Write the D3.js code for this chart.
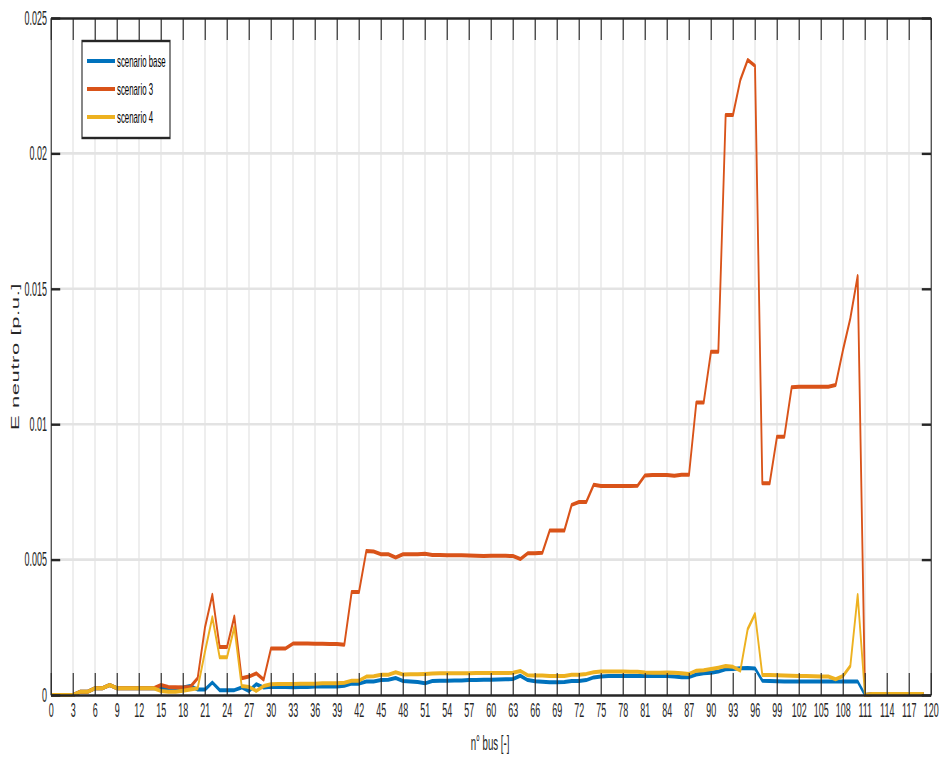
<!DOCTYPE html>
<html>
<head>
<meta charset="utf-8">
<script src="https://cdn.jsdelivr.net/npm/d3@7"></script>
<style>
  body { margin: 0; background: #fff; }
  text { font-family: "Liberation Sans", Arial, Helvetica, sans-serif; }
</style>
</head>
<body>
<svg id="chart"></svg>
<script>
// Bus index 0..119
const buses = [
  0,1,2,3,4,5,6,7,8,9,10,11,12,13,14,15,16,17,18,19,
  20,21,22,23,24,25,26,27,28,29,30,31,32,33,34,35,36,37,38,39,
  40,41,42,43,44,45,46,47,48,49,50,51,52,53,54,55,56,57,58,59,
  60,61,62,63,64,65,66,67,68,69,70,71,72,73,74,75,76,77,78,79,
  80,81,82,83,84,85,86,87,88,89,90,91,92,93,94,95,96,97,98,99,
  100,101,102,103,104,105,106,107,108,109,110,111,112,113,114,115,116,117,118,119
];

const scenarioBase = [
  0,0,0,0,0.00012,0.00012,0.00025,0.00025,0.00037,0.00025,
  0.00025,0.00025,0.00025,0.00025,0.00025,0.00022,0.00022,0.00025,0.00028,0.00033,
  0.0002,0.0002,0.00046,0.00018,0.00018,0.00018,0.00028,0.00015,0.0004,0.00028,
  0.0003,0.0003,0.0003,0.00029,0.0003,0.0003,0.00031,0.00031,0.00031,0.00031,
  0.00034,0.00042,0.00042,0.0005,0.0005,0.00055,0.00056,0.00063,0.00052,0.0005,
  0.00048,0.00043,0.00052,0.00053,0.00053,0.00054,0.00054,0.00055,0.00055,0.00056,
  0.00056,0.00057,0.00058,0.00059,0.00071,0.00055,0.00051,0.00049,0.00047,0.00047,
  0.00048,0.00052,0.00052,0.00055,0.00065,0.00068,0.0007,0.0007,0.0007,0.0007,
  0.0007,0.0007,0.0007,0.0007,0.0007,0.00068,0.00066,0.00066,0.00076,0.0008,
  0.00082,0.00087,0.00095,0.00096,0.00099,0.001,0.00098,0.00053,0.00052,0.00051,
  0.0005,0.0005,0.0005,0.0005,0.0005,0.0005,0.0005,0.0005,0.0005,0.0005,
  0.0005,0,0.00003,0.00003,0.00003,0.00003,0.00003,0.00003,0.00003,0.00003
];

const scenario3 = [
  0,0,0,0,0.00012,0.00012,0.00025,0.00025,0.00037,0.00025,
  0.00025,0.00025,0.00025,0.00025,0.00025,0.00037,0.0003,0.00029,0.00028,0.0003,
  0.00062,0.0025,0.0037,0.00177,0.00177,0.0029,0.00062,0.00068,0.0008,0.00057,
  0.00172,0.00172,0.00172,0.0019,0.0019,0.0019,0.00189,0.00189,0.00188,0.00188,
  0.00186,0.0038,0.0038,0.00532,0.0053,0.0052,0.0052,0.00508,0.0052,0.0052,
  0.0052,0.00522,0.00517,0.00517,0.00516,0.00516,0.00516,0.00515,0.00514,0.00513,
  0.00514,0.00514,0.00514,0.00513,0.00502,0.00523,0.00523,0.00525,0.00607,0.00607,
  0.00607,0.00702,0.00713,0.00713,0.00776,0.00772,0.00772,0.00772,0.00772,0.00772,
  0.00773,0.00811,0.00812,0.00812,0.00812,0.0081,0.00813,0.00813,0.0108,0.0108,
  0.01268,0.01268,0.02142,0.02142,0.02271,0.02345,0.02323,0.00782,0.00782,0.00954,
  0.00954,0.01136,0.01138,0.01138,0.01138,0.01138,0.01138,0.01145,0.01274,0.01391,
  0.01547,0,0.00003,0.00003,0.00003,0.00003,0.00003,0.00003,0.00003,0.00003
];

const scenario4 = [
  0,0,0,0,0.00012,0.00012,0.00025,0.00025,0.00037,0.00025,
  0.00025,0.00025,0.00025,0.00025,0.00025,0.00015,0.00012,0.00012,0.00016,0.0002,
  0.00025,0.0016,0.00287,0.00139,0.00139,0.0025,0.00033,0.0003,0.00015,0.00033,
  0.0004,0.00041,0.00041,0.00041,0.00042,0.00042,0.00042,0.00043,0.00043,0.00043,
  0.00045,0.00053,0.00053,0.00068,0.00069,0.00075,0.00075,0.00084,0.00076,0.00077,
  0.00077,0.00078,0.00079,0.0008,0.0008,0.0008,0.0008,0.0008,0.00081,0.00081,
  0.00081,0.00081,0.00081,0.00082,0.00089,0.00073,0.00072,0.00072,0.0007,0.0007,
  0.0007,0.00075,0.00075,0.00078,0.00084,0.00087,0.00087,0.00087,0.00087,0.00086,
  0.00086,0.00083,0.00082,0.00082,0.00083,0.00082,0.0008,0.00078,0.0009,0.00091,
  0.00096,0.00101,0.00107,0.00104,0.0009,0.00243,0.00299,0.00074,0.00074,0.00073,
  0.00072,0.00071,0.0007,0.0007,0.00069,0.00068,0.00068,0.00058,0.0007,0.00107,
  0.00369,0,0.00004,0.00004,0.00004,0.00004,0.00004,0.00004,0.00004,0.00004
];

const xTickValues = [0,3,6,9,12,15,18,21,24,27,30,33,36,39,42,45,48,51,54,57,60,
  63,66,69,72,75,78,81,84,87,90,93,96,99,102,105,108,111,114,117,120];
const yTickValues = [0,0.005,0.01,0.015,0.02,0.025];
const yTickLabels = ["0","0.005","0.01","0.015","0.02","0.025"];
const seriesNames = ["scenario base", "scenario 3", "scenario 4"];
const seriesColors = ["#0072BD", "#D95319", "#EDB120"];
const xLabel = "n° bus [-]";
const yLabel = "E neutro [p.u.]";

// The figure is laid out in a wide coordinate space and squeezed horizontally.
const W = 939, H = 758, SX = 0.46;
const IW = W / SX;
const ink = "#262626";

const svg = d3.select("#chart")
  .attr("width", W).attr("height", H)
  .attr("viewBox", `0 0 ${IW} ${H}`)
  .attr("preserveAspectRatio", "none");

const plotLeft = 51 / SX, plotRight = 931 / SX, plotTop = 18, plotBottom = 695;
const x = d3.scaleLinear().domain([0, 120]).range([plotLeft, plotRight]);
const y = d3.scaleLinear().domain([0, 0.025]).range([plotBottom, plotTop]);

// grid
const grid = svg.append("g").attr("stroke", "#e3e3e3").attr("stroke-width", 2.6);
grid.selectAll("line.vx").data(xTickValues.filter(d => d > 0 && d < 120)).join("line")
  .attr("x1", d => x(d)).attr("x2", d => x(d)).attr("y1", plotTop).attr("y2", plotBottom);
grid.selectAll("line.hy").data(yTickValues.filter(d => d > 0 && d < 0.025)).join("line")
  .attr("x1", plotLeft).attr("x2", plotRight).attr("y1", d => y(d)).attr("y2", d => y(d));

// series
const line = d3.line().x((d, i) => x(buses[i])).y(d => y(d));
const seriesData = [scenarioBase, scenario3, scenario4];
svg.append("g").selectAll("path").data(seriesData).join("path")
  .attr("d", d => line(d))
  .attr("fill", "none")
  .attr("stroke", (d, i) => seriesColors[i])
  .attr("stroke-width", 4)
  .attr("stroke-linejoin", "round")
  .attr("stroke-linecap", "butt");

// axes (ticks pointing inward, box on all sides)
function styleAxis(g) {
  g.select(".domain").attr("stroke", ink).attr("stroke-width", 2.4);
  g.selectAll(".tick line").attr("stroke", ink).attr("stroke-width", 2.4);
  g.selectAll(".tick text").attr("fill", ink);
}

const xAxis = svg.append("g").attr("transform", `translate(0,${plotBottom})`)
  .call(d3.axisBottom(x).tickValues(xTickValues).tickSizeInner(-22).tickSizeOuter(0)
    .tickPadding(8).tickFormat(d3.format("d")))
  .call(styleAxis);
xAxis.selectAll(".tick text").attr("font-size", 19.5);

svg.append("g").attr("transform", `translate(0,${plotTop})`)
  .call(d3.axisTop(x).tickValues(xTickValues).tickSizeInner(-22).tickSizeOuter(0).tickFormat(""))
  .call(styleAxis);

const yAxis = svg.append("g").attr("transform", `translate(${plotLeft},0)`)
  .call(d3.axisLeft(y).tickValues(yTickValues).tickSizeInner(-20).tickSizeOuter(0)
    .tickPadding(9).tickFormat((d, i) => yTickLabels[i]))
  .call(styleAxis);
yAxis.selectAll(".tick text").attr("font-size", 19.5);

svg.append("g").attr("transform", `translate(${plotRight},0)`)
  .call(d3.axisRight(y).tickValues(yTickValues).tickSizeInner(-20).tickSizeOuter(0).tickFormat(""))
  .call(styleAxis);

// axis titles
svg.append("text").attr("x", 490 / SX).attr("y", 750)
  .attr("text-anchor", "middle").attr("font-size", 21).attr("fill", ink).text(xLabel);
svg.append("text")
  .attr("transform", `translate(${19 / SX},${(plotTop + plotBottom) / 2}) rotate(-90)`)
  .attr("text-anchor", "middle").attr("font-size", 22).attr("letter-spacing", 0.6)
  .attr("fill", ink).text(yLabel);

// legend
const lg = svg.append("g");
lg.append("rect").attr("x", 82 / SX).attr("y", 41).attr("width", 88 / SX).attr("height", 97)
  .attr("fill", "#fff").attr("stroke", ink).attr("stroke-width", 2.4);
const rowsY = [61, 89, 117];
seriesNames.forEach((name, i) => {
  lg.append("line").attr("x1", 87 / SX).attr("x2", 115 / SX)
    .attr("y1", rowsY[i]).attr("y2", rowsY[i])
    .attr("stroke", seriesColors[i]).attr("stroke-width", 4);
  lg.append("text").attr("x", 117 / SX).attr("y", rowsY[i]).attr("dy", "0.35em")
    .attr("font-size", 17).attr("fill", "#000").text(name);
});
</script>
</body>
</html>
